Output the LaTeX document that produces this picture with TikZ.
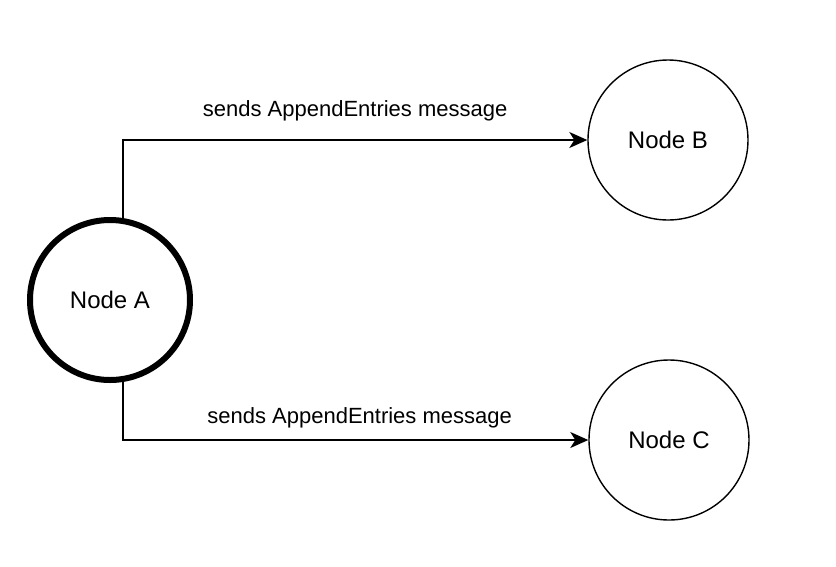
\documentclass[tikz,border=0pt]{standalone}
\usepackage{fontspec}
\setmainfont{Liberation Sans}
\usetikzlibrary{arrows.meta}

\begin{document}
\begin{tikzpicture}[x=1pt, y=-1pt,
    peer/.style={circle, draw, line width=1.4pt, minimum size=160pt, inner sep=0pt,
                 font=\fontsize{24}{28}\selectfont},
    leader/.style={peer, line width=6pt},
    msg/.style={line width=1.4pt, -{Stealth[length=18pt, width=16pt, inset=5pt]}},
    msglabel/.style={anchor=base, font=\fontsize{22}{26}\selectfont}]
    \useasboundingbox (0,0) rectangle (836,566);
    \node[leader] (A) at (110,300) {Node A};
    \node[peer] (B) at (668,140) {Node B};
    \node[peer] (C) at (669,440) {Node C};
    % messages from the leader
    \draw[msg] (A.81) |- node[msglabel, pos=0.75, yshift=24pt] {sends AppendEntries message} (B.west);
    \draw[msg] (A.-81) |- node[msglabel, pos=0.75, yshift=17pt, xshift=4pt] {sends AppendEntries message} (C.west);
\end{tikzpicture}
\end{document}
